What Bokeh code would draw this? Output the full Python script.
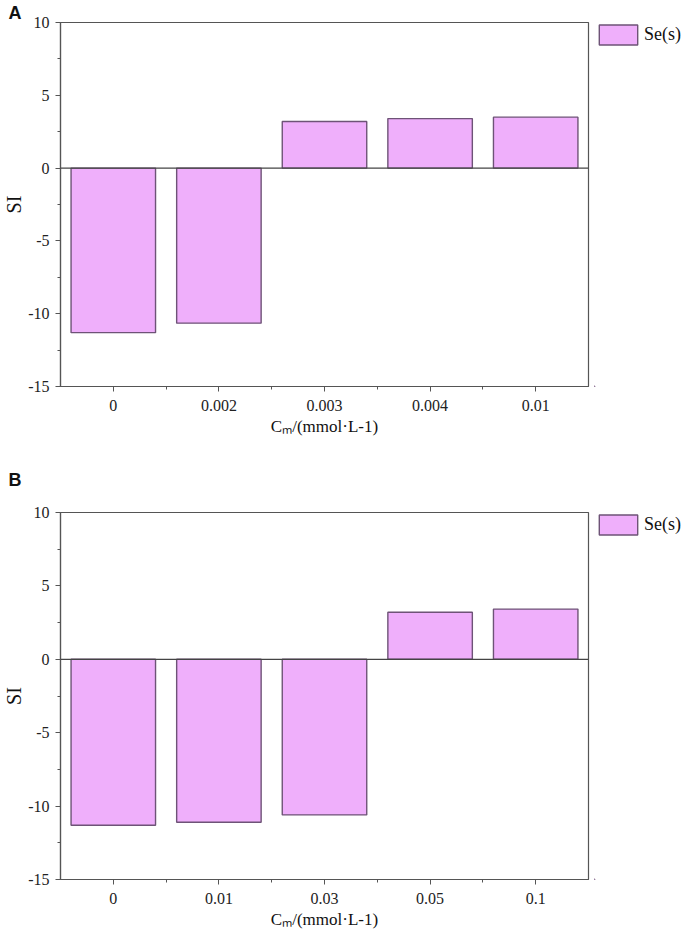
from bokeh.plotting import figure
from bokeh.models import Range1d, FixedTicker, Span, Legend, LegendItem
from bokeh.layouts import column, row
from bokeh.embed import file_html
from bokeh.resources import INLINE

# ---- data ----
cats_a = ["0", "0.002", "0.003", "0.004", "0.01"]
si_a = [-11.3, -10.65, 3.2, 3.4, 3.5]
cats_b = ["0", "0.01", "0.03", "0.05", "0.1"]
si_b = [-11.3, -11.1, -10.6, 3.2, 3.42]
y_ticks = [-15, -10, -5, 0, 5, 10]
y_tick_labels = ["-15", "-10", "-5", "0", "5", "10"]
y_minor = [-12.5, -7.5, -2.5, 2.5, 7.5]
series_name = "Se(s)"
x_title = "Cₘ/(mmol·L-1)"
y_title = "SI"

FILL = "#EFAFFB"
EDGE = "#6E5377"
AX = "#555555"
SERIF = "Liberation Serif"
MAIN_W = 590
LEG_W = 102


def bar_style():
    return dict(fill_color=FILL, line_color=EDGE, line_width=1.4)


def panel(cats, vals, letter, height, top, bottom, letter_standoff, leg_top):
    n = len(cats)
    idx = list(range(n))
    p = figure(width=MAIN_W, height=height, output_backend="svg", toolbar_location=None,
               x_range=Range1d(-0.5, n - 0.5), y_range=Range1d(-15, 10),
               min_border_left=60, min_border_right=2, min_border_top=top,
               min_border_bottom=bottom)
    p.grid.visible = False
    p.outline_line_color = AX
    p.outline_line_width = 1.2
    p.vbar(x=idx, top=vals, bottom=0, width=0.8, **bar_style())
    p.add_layout(Span(location=0, dimension="width", line_color="#444444", line_width=1.2))

    xa = p.xaxis[0]
    xa.ticker = FixedTicker(ticks=idx, minor_ticks=[i + 0.5 for i in idx[:-1]])
    xa.major_label_overrides = {i: c for i, c in zip(idx, cats)}
    ya = p.yaxis[0]
    ya.ticker = FixedTicker(ticks=y_ticks, minor_ticks=y_minor)
    ya.major_label_overrides = {t: s for t, s in zip(y_ticks, y_tick_labels)}
    for ax in (xa, ya):
        ax.axis_line_color = AX
        ax.axis_line_width = 1.2
        ax.major_tick_line_color = AX
        ax.minor_tick_line_color = AX
        ax.major_tick_in = 0
        ax.major_tick_out = 5
        ax.minor_tick_in = 0
        ax.minor_tick_out = 3
        ax.major_label_text_font = SERIF
        ax.major_label_text_font_size = "16px"
        ax.major_label_text_color = "#222222"
        ax.axis_label_text_font = SERIF
        ax.axis_label_text_font_style = "normal"
        ax.axis_label_text_color = "#111111"
    xa.axis_label = x_title
    xa.axis_label_text_font_size = "17px"
    xa.major_label_standoff = 8
    xa.axis_label_standoff = 3
    ya.axis_label = y_title
    ya.axis_label_text_font_size = "20px"
    ya.major_label_standoff = 6
    ya.axis_label_standoff = 0

    p.title.text = letter
    p.title.align = "left"
    p.title.offset = -52
    p.title.standoff = letter_standoff
    p.title.text_font = "Liberation Sans"
    p.title.text_font_style = "bold"
    p.title.text_font_size = "18px"
    p.title.text_color = "#111111"

    # legend lives in a narrow companion figure to the right of the frame;
    # its key renderer is a copy of the series kept far outside that figure's view
    lf = figure(width=LEG_W, height=height, output_backend="svg", toolbar_location=None,
                x_axis_type=None, y_axis_type=None,
                min_border_left=4, min_border_right=0, min_border_bottom=0,
                min_border_top=leg_top,
                x_range=Range1d(n + 10, n + 11), y_range=Range1d(100, 101))
    lf.grid.visible = False
    lf.outline_line_color = None
    key = lf.vbar(x=idx, top=vals, bottom=0, width=0.8, **bar_style())
    leg = Legend(items=[LegendItem(label=series_name, renderers=[key])],
                 location="top_left", orientation="vertical")
    leg.glyph_width = 48
    leg.glyph_height = 25
    leg.padding = 0
    leg.margin = 0
    leg.spacing = 0
    leg.label_standoff = 2
    leg.label_text_font = SERIF
    leg.label_text_font_size = "18px"
    leg.label_text_color = "#111111"
    leg.border_line_alpha = 0
    leg.background_fill_alpha = 0
    lf.add_layout(leg)
    return row(p, lf, spacing=0)


ra = panel(cats_a, si_a, "A", 443, 22, 57, 0, 19)
rb = panel(cats_b, si_b, "B", 490, 69, 54, 46, 67)
layout = column(ra, rb, spacing=0)

open("out.html", "w").write(file_html(layout, INLINE))
